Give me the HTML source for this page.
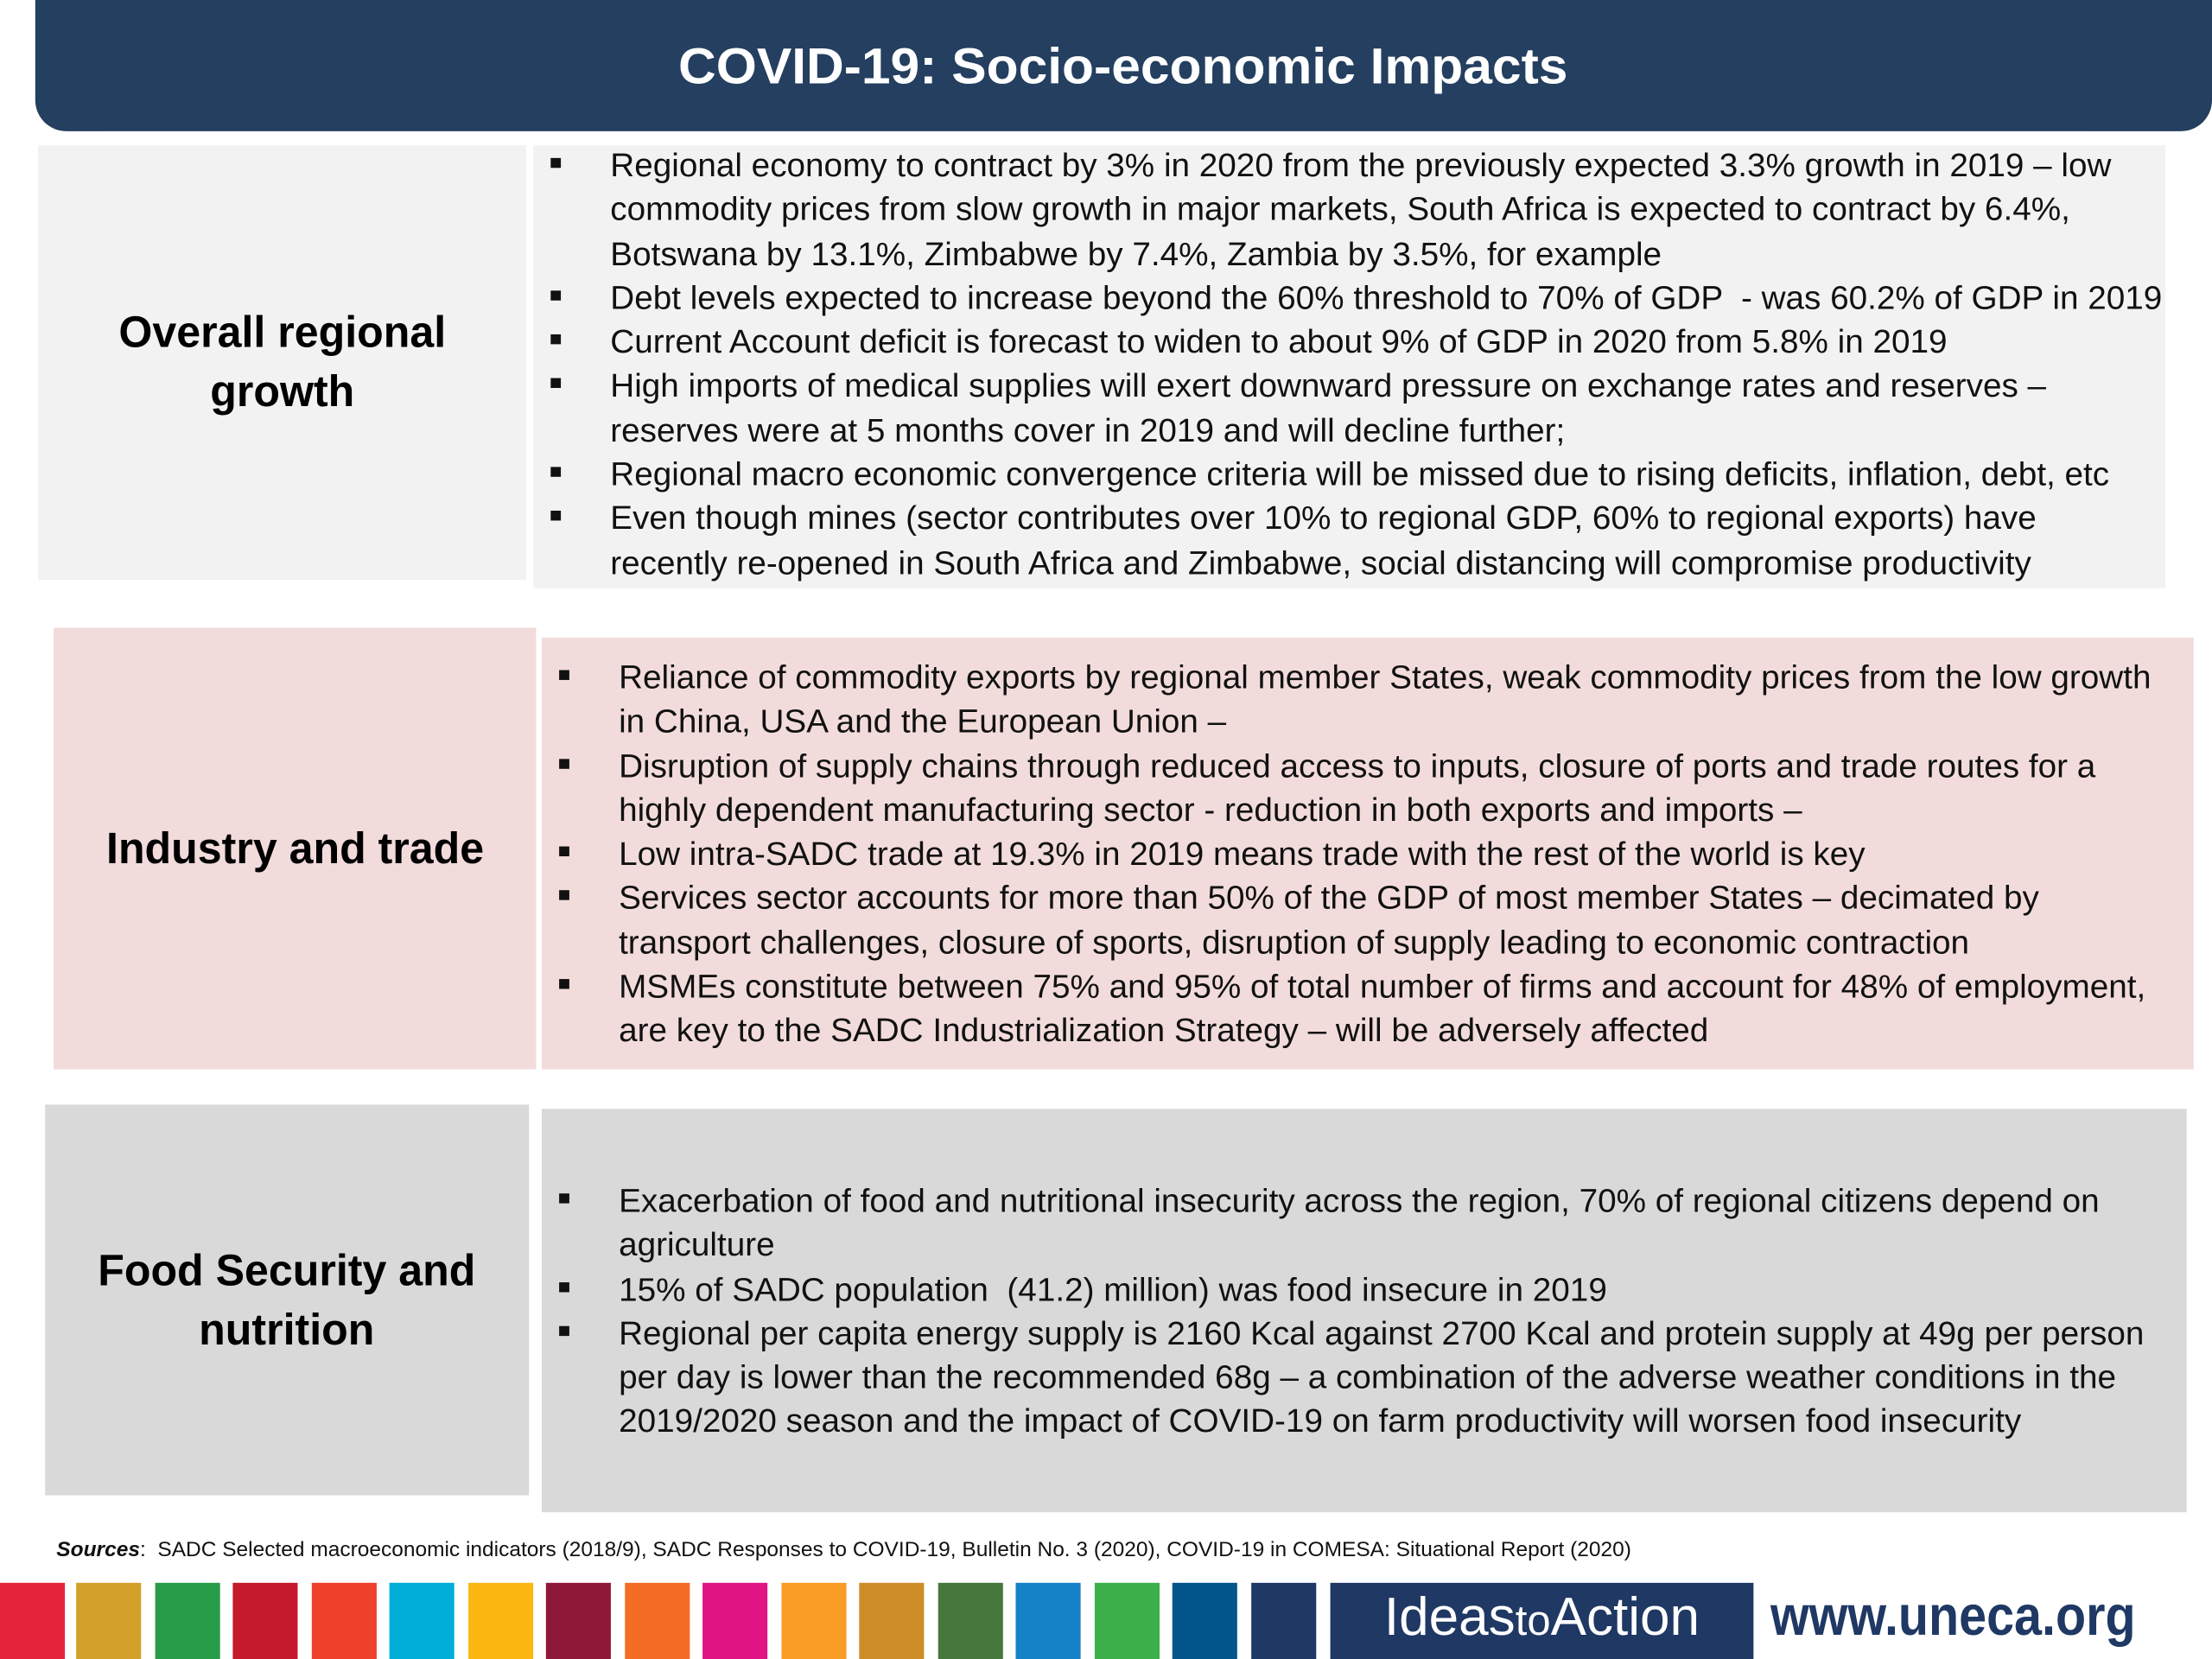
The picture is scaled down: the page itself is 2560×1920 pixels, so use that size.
<!DOCTYPE html>
<html><head><meta charset="utf-8"><style>
html,body{margin:0;padding:0;background:#fff;}
body{width:2560px;height:1920px;overflow:hidden;position:relative;font-family:"Liberation Sans",sans-serif;}
#s{position:absolute;left:0;top:0;width:1568px;height:1176px;transform:scale(1.63265);transform-origin:0 0;}
.abs{position:absolute;}
.title{left:25px;top:0;width:1543px;height:93px;background:#243f60;border-radius:0 0 22px 22px;color:#fff;font-weight:bold;font-size:36px;text-align:center;line-height:94px;}
.title span{display:inline-block;transform:scaleX(1.03);}
.lab{display:flex;align-items:center;justify-content:center;text-align:center;font-weight:bold;font-size:31px;line-height:42px;color:#000;}
.lab span{display:inline-block;transform:scaleX(.99);}
.txt{font-size:23px;line-height:31.3px;color:#111;white-space:nowrap;}
.txt .in{transform:scaleX(1.03);transform-origin:0 0;}
.li{position:relative;padding-left:51px;}
.li:before{content:"";position:absolute;left:10px;top:10px;width:7px;height:7px;background:#111;}
.c{padding-left:51px;}
.bar{top:1122px;height:54px;width:46px;}
</style></head><body>
<div id="s">
<div class="abs title"><span>COVID-19: Socio-economic Impacts</span></div>

<div class="abs lab" style="left:27px;top:103px;width:346px;height:308px;background:#f2f2f2;"><span>Overall regional<br>growth</span></div>
<div class="abs txt" style="left:378px;top:103px;width:1157px;height:314px;background:#f2f2f2;">
<div class="in" style="padding:0 0 0 2px;margin-top:-1px;">
<div class="li">Regional economy to contract by 3% in 2020 from the previously expected 3.3% growth in 2019 – low</div>
<div class="c">commodity prices from slow growth in major markets, South Africa is expected to contract by 6.4%,</div>
<div class="c">Botswana by 13.1%, Zimbabwe by 7.4%, Zambia by 3.5%, for example</div>
<div class="li">Debt levels expected to increase beyond the 60% threshold to 70% of GDP &nbsp;- was 60.2% of GDP in 2019</div>
<div class="li">Current Account deficit is forecast to widen to about 9% of GDP in 2020 from 5.8% in 2019</div>
<div class="li">High imports of medical supplies will exert downward pressure on exchange rates and reserves –</div>
<div class="c">reserves were at 5 months cover in 2019 and will decline further;</div>
<div class="li">Regional macro economic convergence criteria will be missed due to rising deficits, inflation, debt, etc</div>
<div class="li">Even though mines (sector contributes over 10% to regional GDP, 60% to regional exports) have</div>
<div class="c">recently re-opened in South Africa and Zimbabwe, social distancing will compromise productivity</div>
</div></div>

<div class="abs lab" style="left:38px;top:445px;width:342px;height:313px;background:#f2dcdb;"><span>Industry and trade</span></div>
<div class="abs txt" style="left:384px;top:452px;width:1171px;height:306px;background:#f2dcdb;">
<div class="in" style="padding:13px 0 0 2px;">
<div class="li">Reliance of commodity exports by regional member States, weak commodity prices from the low growth</div>
<div class="c">in China, USA and the European Union –</div>
<div class="li">Disruption of supply chains through reduced access to inputs, closure of ports and trade routes for a</div>
<div class="c">highly dependent manufacturing sector - reduction in both exports and imports –</div>
<div class="li">Low intra-SADC trade at 19.3% in 2019 means trade with the rest of the world is key</div>
<div class="li">Services sector accounts for more than 50% of the GDP of most member States – decimated by</div>
<div class="c">transport challenges, closure of sports, disruption of supply leading to economic contraction</div>
<div class="li">MSMEs constitute between 75% and 95% of total number of firms and account for 48% of employment,</div>
<div class="c">are key to the SADC Industrialization Strategy – will be adversely affected</div>
</div></div>

<div class="abs lab" style="left:32px;top:783px;width:343px;height:277px;background:#d9d9d9;"><span>Food Security and<br>nutrition</span></div>
<div class="abs txt" style="left:384px;top:786px;width:1166px;height:286px;background:#d9d9d9;">
<div class="in" style="padding:50px 0 0 2px;">
<div class="li">Exacerbation of food and nutritional insecurity across the region, 70% of regional citizens depend on</div>
<div class="c">agriculture</div>
<div class="li">15% of SADC population &nbsp;(41.2) million) was food insecure in 2019</div>
<div class="li">Regional per capita energy supply is 2160 Kcal against 2700 Kcal and protein supply at 49g per person</div>
<div class="c">per day is lower than the recommended 68g – a combination of the adverse weather conditions in the</div>
<div class="c">2019/2020 season and the impact of COVID-19 on farm productivity will worsen food insecurity</div>
</div></div>

<div class="abs" style="left:40px;top:1090px;font-size:15px;white-space:nowrap;color:#111;"><div style="transform:scaleX(1.0);transform-origin:0 0;"><b><i>Sources</i></b>: &nbsp;SADC Selected macroeconomic indicators (2018/9), SADC Responses to COVID-19, Bulletin No. 3 (2020), COVID-19 in COMESA: Situational Report (2020)</div></div>

<div id="bars"></div>
<div class="abs" style="left:943px;top:1122px;width:300px;height:54px;background:#1f3864;color:#fff;font-size:38px;line-height:50px;text-align:center;font-weight:300;">Ideas<span style="font-size:30px">to</span>Action</div>
<div class="abs" style="left:1255px;top:1122px;font-size:40px;line-height:48px;color:#1f3864;font-weight:bold;white-space:nowrap;"><div style="transform:scaleX(.88);transform-origin:0 0;">www.uneca.org</div></div>
</div>
<script>
var cols=["#e5243b","#d3a029","#279b48","#c5192d","#ef402b","#00aed9","#fdb713","#8f1838","#f36d25","#e11484","#f99d26","#cf8d2a","#48773e","#1582c8","#3db04b","#02558b","#1f3864"];
var xs=[0,54,110,165,221,276,332,387,443,498,554,609,665,720,776,831,887];
var b=document.getElementById('bars');
for(var i=0;i<cols.length;i++){var d=document.createElement('div');d.className='abs bar';d.style.left=xs[i]+'px';d.style.background=cols[i];


b.appendChild(d);}
</script>
</body></html>
